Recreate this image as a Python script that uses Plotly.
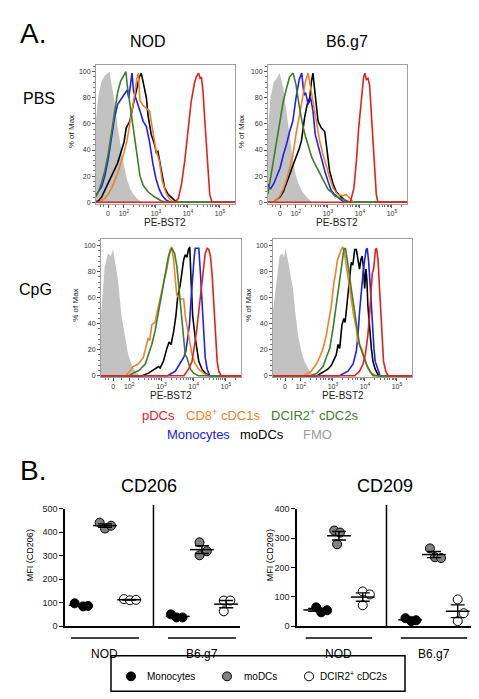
import numpy as np
import plotly.graph_objects as go

# ---------------------------------------------------------------------------
# Panel A data: PE-BST2 histograms.
# x = display position on the FlowJo biexponential axis (in decades),
# y = % of Max.
# ---------------------------------------------------------------------------
NOD_PBS_FMO_U = [1.12, 1.2, 1.3, 1.4, 1.5, 1.55, 1.6, 1.7, 1.8, 1.9, 2.0, 2.1, 2.2, 2.3, 2.4, 2.5, 2.6]
NOD_PBS_FMO_PCT = [62, 82, 93, 97, 99, 100, 92, 78, 58, 42, 28, 17, 10, 6, 3, 1, 0]
NOD_PBS_DCIR2_U = [1.12, 1.2, 1.3, 1.4, 1.5, 1.6, 1.7, 1.8, 1.9, 2.0, 2.06, 2.1, 2.2, 2.3, 2.4, 2.5, 2.6, 2.75, 2.96, 3.17, 3.3]
NOD_PBS_DCIR2_PCT = [4, 8, 15, 24, 36, 52, 70, 84, 93, 97, 100, 90, 72, 55, 36, 20, 13, 8, 4, 1, 0]
NOD_PBS_MONO_U = [1.12, 1.2, 1.3, 1.4, 1.5, 1.6, 1.66, 1.7, 1.8, 1.9, 2.0, 2.1, 2.15, 2.2, 2.25, 2.3, 2.4, 2.5, 2.6, 2.7, 2.8, 2.9, 3.0, 3.1, 3.2, 3.3, 3.45]
NOD_PBS_MONO_PCT = [5, 8, 12, 20, 32, 48, 60, 64, 75, 79, 82, 86, 80, 92, 99, 85, 78, 70, 62, 58, 46, 30, 18, 10, 5, 2, 0]
NOD_PBS_CD8_U = [1.2, 1.3, 1.4, 1.5, 1.6, 1.7, 1.8, 1.9, 2.0, 2.1, 2.2, 2.3, 2.35, 2.4, 2.45, 2.5, 2.6, 2.7, 2.8, 2.85, 2.9, 3.0, 3.1, 3.2, 3.3, 3.4, 3.5, 3.6]
NOD_PBS_CD8_PCT = [0, 1, 3, 6, 10, 16, 22, 30, 38, 48, 62, 78, 85, 95, 99, 78, 74, 72, 70, 62, 55, 40, 32, 16, 8, 3, 1, 0]
NOD_PBS_MODC_U = [1.2, 1.3, 1.4, 1.5, 1.6, 1.7, 1.8, 1.9, 2.0, 2.07, 2.18, 2.3, 2.4, 2.48, 2.54, 2.6, 2.65, 2.7, 2.75, 2.85, 2.96, 3.01, 3.06, 3.17, 3.27, 3.38, 3.5, 3.6, 3.7]
NOD_PBS_MODC_PCT = [1, 4, 9, 14, 19, 24, 30, 38, 46, 57, 62, 76, 88, 96, 99, 90, 86, 80, 67, 52, 44, 38, 39, 24, 11, 6, 3, 1, 0]
NOD_PBS_PDC_U = [3.6, 3.7, 3.8, 3.9, 4.0, 4.1, 4.2, 4.26, 4.33, 4.38, 4.42, 4.47, 4.52, 4.57, 4.62, 4.68, 4.75]
NOD_PBS_PDC_PCT = [0, 3, 14, 32, 57, 77, 91, 96, 99, 95, 96, 85, 65, 44, 24, 6, 0]

B6_PBS_FMO_U = [1.12, 1.2, 1.3, 1.4, 1.49, 1.6, 1.7, 1.8, 1.9, 2.0, 2.1, 2.2, 2.3, 2.4, 2.5]
B6_PBS_FMO_PCT = [55, 80, 92, 95, 99, 88, 70, 50, 33, 20, 13, 8, 5, 2, 0]
B6_PBS_DCIR2_U = [1.12, 1.2, 1.3, 1.4, 1.5, 1.6, 1.7, 1.8, 1.91, 2.0, 2.1, 2.2, 2.3, 2.4, 2.5, 2.6, 2.7, 2.8, 2.9, 3.0, 3.1, 3.2, 3.4, 3.6, 3.7]
B6_PBS_DCIR2_PCT = [6, 18, 35, 48, 65, 77, 87, 96, 99, 90, 74, 60, 50, 41, 34, 29, 24, 19, 14, 10, 8, 5, 3, 1, 0]
B6_PBS_MONO_U = [1.12, 1.2, 1.3, 1.4, 1.5, 1.6, 1.7, 1.8, 1.9, 2.0, 2.1, 2.18, 2.25, 2.3, 2.38, 2.46, 2.53, 2.6, 2.7, 2.8, 2.9, 3.0, 3.1, 3.2, 3.3, 3.4, 3.5]
B6_PBS_MONO_PCT = [14, 10, 14, 20, 26, 36, 44, 54, 62, 80, 94, 99, 82, 84, 75, 80, 70, 52, 42, 32, 24, 16, 9, 6, 4, 2, 0]
B6_PBS_CD8_U = [1.3, 1.4, 1.5, 1.6, 1.7, 1.8, 1.9, 2.0, 2.1, 2.2, 2.3, 2.38, 2.48, 2.58, 2.67, 2.74, 2.84, 2.95, 3.05, 3.16, 3.3, 3.47, 3.57, 3.68, 3.8]
B6_PBS_CD8_PCT = [0, 2, 5, 10, 17, 26, 36, 52, 66, 80, 93, 99, 85, 72, 57, 47, 37, 27, 19, 11, 6, 5, 6, 3, 0]
B6_PBS_MODC_U = [1.3, 1.4, 1.5, 1.6, 1.7, 1.8, 1.9, 2.0, 2.1, 2.17, 2.27, 2.35, 2.43, 2.48, 2.53, 2.58, 2.64, 2.69, 2.79, 2.9, 2.95, 3.0, 3.05, 3.16, 3.26, 3.42, 3.6]
B6_PBS_MODC_PCT = [0, 2, 4, 8, 14, 21, 28, 34, 41, 47, 65, 75, 80, 92, 99, 87, 70, 62, 57, 54, 44, 34, 24, 14, 8, 4, 0]
B6_PBS_PDC_U = [3.7, 3.81, 3.89, 3.96, 4.04, 4.11, 4.15, 4.2, 4.25, 4.3, 4.35, 4.41, 4.46, 4.51, 4.56]
B6_PBS_PDC_PCT = [0, 11, 32, 57, 80, 95, 99, 94, 95, 90, 70, 44, 21, 6, 0]

NOD_CPG_FMO_U = [1.12, 1.2, 1.24, 1.34, 1.43, 1.5, 1.55, 1.66, 1.76, 1.87, 1.97, 2.07, 2.18, 2.28, 2.4]
NOD_CPG_FMO_PCT = [45, 70, 84, 94, 92, 97, 89, 72, 46, 29, 16, 9, 4, 1, 0]
NOD_CPG_CD8_U = [1.9, 1.97, 2.12, 2.28, 2.44, 2.54, 2.59, 2.64, 2.7, 2.8, 2.91, 3.01, 3.09, 3.17, 3.22, 3.27, 3.32, 3.38, 3.43, 3.48, 3.58, 3.69, 3.74, 3.84, 3.95, 4.05, 4.16, 4.31, 4.45]
NOD_CPG_CD8_PCT = [0, 2, 7, 9, 14, 24, 29, 27, 39, 41, 54, 67, 74, 82, 89, 97, 99, 89, 74, 62, 59, 59, 46, 31, 16, 9, 5, 2, 0]
NOD_CPG_DCIR2_U = [2.0, 2.12, 2.3, 2.5, 2.7, 2.8, 2.91, 3.01, 3.12, 3.22, 3.32, 3.41, 3.48, 3.53, 3.58, 3.64, 3.69, 3.74, 3.79, 3.84, 3.9, 4.0, 4.15]
NOD_CPG_DCIR2_PCT = [0, 2, 4, 9, 24, 34, 49, 64, 77, 92, 98, 94, 84, 72, 59, 46, 29, 16, 14, 10, 5, 2, 0]
NOD_CPG_MODC_U = [2.4, 2.6, 2.7, 2.8, 2.91, 2.96, 3.06, 3.17, 3.24, 3.3, 3.38, 3.45, 3.51, 3.58, 3.64, 3.69, 3.74, 3.79, 3.84, 3.88, 3.92, 3.97, 4.05, 4.1, 4.16, 4.26, 4.36, 4.5]
NOD_CPG_MODC_PCT = [0, 2, 3.5, 5, 7, 6, 11, 21, 26, 24, 34, 46, 62, 69, 79, 89, 93, 91, 97, 99, 74, 46, 29, 19, 11, 5, 2, 0]
NOD_CPG_MONO_U = [3.2, 3.43, 3.58, 3.69, 3.76, 3.82, 3.87, 3.92, 3.97, 4.02, 4.05, 4.1, 4.16, 4.21, 4.26, 4.31, 4.36, 4.42, 4.5]
NOD_CPG_MONO_PCT = [0, 3.5, 9, 14, 19, 29, 39, 59, 79, 92, 98, 98, 98, 79, 54, 29, 14, 5, 0]
NOD_CPG_PDC_U = [3.7, 3.84, 3.95, 4.03, 4.1, 4.18, 4.26, 4.31, 4.36, 4.42, 4.47, 4.52, 4.57, 4.63, 4.68, 4.73, 4.78, 4.85]
NOD_CPG_PDC_PCT = [0, 5, 11, 24, 36, 54, 72, 84, 94, 98, 97, 92, 79, 54, 29, 11, 3.5, 0]

B6_CPG_FMO_U = [1.12, 1.23, 1.33, 1.41, 1.47, 1.52, 1.59, 1.68, 1.75, 1.82, 1.91, 2.01, 2.11, 2.22, 2.32, 2.43]
B6_CPG_FMO_PCT = [49, 74, 92, 94, 91, 98, 89, 79, 67, 49, 31, 19, 11, 6, 2, 0]
B6_CPG_CD8_U = [2.1, 2.32, 2.48, 2.58, 2.69, 2.79, 2.84, 2.95, 3.03, 3.07, 3.14, 3.21, 3.26, 3.31, 3.36, 3.42, 3.52, 3.63, 3.73, 3.78, 3.89, 3.99, 4.09, 4.2, 4.35]
B6_CPG_CD8_PCT = [0, 3.5, 9, 14, 21, 31, 39, 54, 72, 77, 89, 94, 97, 99, 94, 84, 67, 49, 36, 26, 21, 14, 6, 2, 0]
B6_CPG_DCIR2_U = [2.3, 2.5, 2.69, 2.79, 2.9, 3.0, 3.1, 3.21, 3.28, 3.34, 3.39, 3.45, 3.49, 3.57, 3.68, 3.76, 3.83, 3.94, 4.04, 4.15, 4.25]
B6_CPG_DCIR2_PCT = [0, 2, 7, 14, 21, 36, 54, 74, 87, 97, 98, 89, 82, 67, 49, 34, 24, 16, 9, 3.5, 0]
B6_CPG_MODC_U = [2.5, 2.74, 2.84, 2.95, 3.1, 3.16, 3.21, 3.28, 3.34, 3.38, 3.45, 3.52, 3.57, 3.62, 3.68, 3.73, 3.78, 3.83, 3.87, 3.91, 3.95, 3.99, 4.03, 4.06, 4.09, 4.15, 4.2, 4.25, 4.32, 4.42]
B6_CPG_MODC_PCT = [0, 3.5, 5, 8, 16, 24, 21, 39, 44, 41, 57, 74, 87, 85, 97, 97, 89, 82, 89, 92, 84, 67, 82, 74, 54, 34, 21, 11, 5, 0]
B6_CPG_MONO_U = [3.2, 3.47, 3.63, 3.73, 3.78, 3.83, 3.89, 3.94, 3.99, 4.04, 4.07, 4.11, 4.17, 4.22, 4.28, 4.32, 4.39, 4.47]
B6_CPG_MONO_PCT = [0, 3.5, 9, 19, 31, 49, 67, 79, 89, 97, 98, 89, 67, 41, 21, 11, 5, 0]
B6_CPG_PDC_U = [3.68, 3.83, 3.94, 4.01, 4.09, 4.15, 4.2, 4.23, 4.27, 4.3, 4.33, 4.36, 4.41, 4.44, 4.49, 4.53, 4.58, 4.65, 4.72]
B6_CPG_PDC_PCT = [0, 3.5, 9, 16, 31, 49, 69, 79, 82, 89, 97, 98, 89, 74, 49, 29, 11, 3.5, 0]

# PE-BST2 axis tick values (fluorescence) and labels
BST2_TICK_VALUES = [0, 1e2, 1e3, 1e4, 1e5]
BST2_TICK_LABELS = ["0", "10<sup>2</sup>", "10<sup>3</sup>", "10<sup>4</sup>", "10<sup>5</sup>"]
PCT_TICKS = [0, 20, 40, 60, 80, 100]

# ---------------------------------------------------------------------------
# Panel B data: MFI per mouse
# ---------------------------------------------------------------------------
STRAINS = ["NOD", "B6.g7"]
CELL_TYPES = ["Monocytes", "moDCs", "DCIR2<sup>+</sup> cDC2s"]

CD206_NOD_MONO = [97, 84, 86]
CD206_NOD_MODC = [441, 416, 428]
CD206_NOD_CDC2 = [115, 110, 112]
CD206_B6_MONO = [50, 37, 37]
CD206_B6_MODC = [357, 319, 302]
CD206_B6_CDC2 = [109, 109, 63]

CD209_NOD_MONO = [64, 47, 54]
CD209_NOD_MODC = [326, 319, 279]
CD209_NOD_CDC2 = [118, 108, 71]
CD209_B6_MONO = [27, 17, 20]
CD209_B6_MODC = [265, 235, 232]
CD209_B6_CDC2 = [91, 44, 17]

# ---------------------------------------------------------------------------
W, H = 479, 699
FONT = "Arial, Liberation Sans, sans-serif"


def fx(px):
    return px / W


def fy(py):
    return 1 - py / H


def bst2_display(v):
    """FlowJo-like biexponential display position (in decades)."""
    v = float(v)
    if v >= 100:
        return np.log10(v)
    return 1.5 + 0.5 * v / 100.0


COLORS = {
    "PDC": "#e3211c",
    "CD8": "#f0802a",
    "DCIR2": "#3b7f2b",
    "MONO": "#2020ee",
    "MODC": "#000000",
    "FMO": "#c2c2c2",
}

g = globals()
PANELS_A = [  # key, axis index, left px, right px, top px, bottom px
    ("NOD_PBS", 1, 88, 227, 53, 193.3),
    ("B6_PBS", 2, 260, 399, 53, 193.3),
    ("NOD_CPG", 3, 93, 233, 229.4, 369.3),
    ("B6_CPG", 4, 265, 404, 229.4, 369.3),
]
XR = [1.125, 5.47]
YR = [-1, 105]
DRAW_ORDER = ["MODC", "MONO", "CD8", "DCIR2", "PDC"]

major_x = [bst2_display(v) for v in BST2_TICK_VALUES]
minor_x = []
for k in (2, 3, 4):
    for m in range(2, 10):
        minor_x.append(bst2_display(m * 10 ** k))
minor_x += [bst2_display(2e5), bst2_display(50), 1.25, 1.35]

fig = go.Figure()
layout = {}

for key, idx, l, r, t, b in PANELS_A:
    sfx = "" if idx == 1 else str(idx)
    xa, ya = "x" + sfx, "y" + sfx
    # FMO filled
    fig.add_trace(go.Scatter(
        x=g[f"{key}_FMO_U"], y=g[f"{key}_FMO_PCT"], xaxis=xa, yaxis=ya,
        mode="lines", line=dict(width=0, color=COLORS["FMO"]),
        fill="tozeroy", fillcolor=COLORS["FMO"], showlegend=False, hoverinfo="skip"))
    for pop in DRAW_ORDER:
        u = list(g[f"{key}_{pop}_U"])
        p = list(g[f"{key}_{pop}_PCT"])
        if u[0] > XR[0]:
            u = [XR[0] - 0.05] + u
            p = [0] + p
        u = u + [XR[1] + 0.05]
        p = p + [0]
        fig.add_trace(go.Scatter(
            x=u, y=p, xaxis=xa, yaxis=ya, mode="lines",
            line=dict(width=1.6, color=COLORS[pop]), showlegend=False, hoverinfo="skip"))
    layout["xaxis" + sfx] = dict(
        domain=[fx(l), fx(r)], range=XR, anchor=ya,
        showline=True, mirror=True, linecolor="#a0a0a0", linewidth=1,
        showgrid=False, zeroline=False,
        tickmode="array", tickvals=major_x, ticktext=BST2_TICK_LABELS,
        ticks="outside", ticklen=3, tickcolor="#555", tickwidth=1,
        tickfont=dict(family=FONT, size=7, color="#333"),
        minor=dict(tickmode="array", tickvals=minor_x, ticks="outside", ticklen=2,
                   tickcolor="#777", showgrid=False),
    )
    layout["yaxis" + sfx] = dict(
        domain=[fy(b), fy(t)], range=YR, anchor=xa,
        showline=True, mirror=True, linecolor="#a0a0a0", linewidth=1,
        showgrid=False, zeroline=False,
        tickmode="array", tickvals=PCT_TICKS,
        ticks="outside", ticklen=3, tickcolor="#555", tickwidth=1,
        tickfont=dict(family=FONT, size=7, color="#333"),
        minor=dict(dtick=4, ticks="outside", ticklen=2, tickcolor="#777", showgrid=False),
    )

# ---------------------------------------------------------------------------
# Panel B
# ---------------------------------------------------------------------------
GROUP_CENTER = {"NOD": 2, "B6.g7": 6}
TYPE_OFFSET = {"MONO": -1, "MODC": 0, "CDC2": 1}
FILL = {"MONO": "#000000", "MODC": "#808080", "CDC2": "#ffffff"}

# beeswarm horizontal offsets of the three mice (layout only)
SWARM = {
    ("CD206", "NOD", "MONO"): [-0.25, 0.1, 0.3],
    ("CD206", "NOD", "MODC"): [-0.22, 0.0, 0.25],
    ("CD206", "NOD", "CDC2"): [-0.22, 0.03, 0.28],
    ("CD206", "B6", "MONO"): [-0.28, -0.05, 0.2],
    ("CD206", "B6", "MODC"): [-0.1, 0.2, -0.1],
    ("CD206", "B6", "CDC2"): [-0.1, 0.17, -0.1],
    ("CD209", "NOD", "MONO"): [0.04, 0.25, 0.5],
    ("CD209", "NOD", "MODC"): [-0.2, 0.04, -0.08],
    ("CD209", "NOD", "CDC2"): [0.0, 0.3, 0.0],
    ("CD209", "B6", "MONO"): [-0.2, 0.04, 0.25],
    ("CD209", "B6", "MODC"): [-0.17, 0.04, 0.3],
    ("CD209", "B6", "CDC2"): [0.0, 0.25, 0.0],
}

PANELS_B = [  # marker, axis idx, left, right, top, bottom px, x range, y max, title x
    ("CD206", 5, 57, 232, 503, 622, [0.35, 7.57], 500, 141),
    ("CD209", 6, 289, 468, 503, 622, [0.232, 7.77], 400, 377),
]

shapes = []
annotations = []


def text(s, px, py, size, color="#000", xanchor="center", angle=0):
    annotations.append(dict(
        text=s, x=fx(px), y=fy(py), xref="paper", yref="paper", showarrow=False,
        font=dict(family=FONT, size=size, color=color), xanchor=xanchor,
        yanchor="middle", textangle=angle))


for marker, idx, l, r, t, b, xr, ymax, tx in PANELS_B:
    sfx = str(idx)
    xa, ya = "x" + sfx, "y" + sfx
    for strain, skey in (("NOD", "NOD"), ("B6.g7", "B6")):
        for ct in ("MONO", "MODC", "CDC2"):
            vals = np.array(g[f"{marker}_{skey}_{ct}"], dtype=float)
            pos = GROUP_CENTER[strain] + TYPE_OFFSET[ct]
            offs = SWARM[(marker, skey, ct)]
            fig.add_trace(go.Scatter(
                x=[pos + o for o in offs], y=vals, xaxis=xa, yaxis=ya, mode="markers",
                marker=dict(size=9, color=FILL[ct], line=dict(color="#000", width=1)),
                cliponaxis=False, showlegend=False, hoverinfo="skip"))
            mean = vals.mean()
            sem = vals.std(ddof=1) / np.sqrt(len(vals))
            fig.add_trace(go.Scatter(
                x=[pos], y=[mean], xaxis=xa, yaxis=ya, mode="markers",
                marker=dict(symbol="line-ew", size=17, line=dict(color="#000", width=1.5)),
                error_y=dict(type="data", array=[sem], width=7, thickness=1.4, color="#000"),
                cliponaxis=False, showlegend=False, hoverinfo="skip"))
    layout["xaxis" + sfx] = dict(
        domain=[fx(l), fx(r)], range=xr, anchor=ya, showline=True, linecolor="#000",
        linewidth=1.5, showticklabels=False, ticks="", showgrid=False, zeroline=False)
    layout["yaxis" + sfx] = dict(
        domain=[fy(b), fy(t)], range=[0, ymax], anchor=xa, showline=True, linecolor="#000",
        linewidth=1.5, dtick=100, ticks="outside", ticklen=4, tickwidth=1.2,
        tickcolor="#000", tickfont=dict(family=FONT, size=9, color="#222"),
        showgrid=False, zeroline=False)
    # divider between strains
    shapes.append(dict(type="line", xref=xa, yref="paper", x0=4, x1=4,
                       y0=fy(622), y1=fy(499), line=dict(color="#000", width=1.5)))
    # strain underlines and labels
    for strain in STRAINS:
        c = GROUP_CENTER[strain]
        shapes.append(dict(type="line", xref=xa, yref="paper", x0=c - 1.4, x1=c + 1.4,
                           y0=fy(634), y1=fy(634), line=dict(color="#000", width=1.5)))
        annotations.append(dict(text=strain, x=c, y=fy(650), xref=xa, yref="paper",
                                showarrow=False, xanchor="center", yanchor="middle",
                                font=dict(family=FONT, size=12, color="#000")))
    text(marker, tx, 480, 18)
    text(f"MFI ({marker})", 22 if idx == 5 else 262, 550, 9, angle=-90)

# ---------------------------------------------------------------------------
# Text for panel A
# ---------------------------------------------------------------------------
text("A.", 25, 21, 28)
text("NOD", 140, 29, 16)
text("B6.g7", 339, 29, 16)
text("PBS", 31, 87, 16)
text("CpG", 27, 281, 16)
for px, py in ((63, 121), (233, 121), (68, 297), (241, 297)):
    text("% of Max", px, py, 8, color="#222", angle=-90)
for px, py in ((157, 213), (329, 213), (163, 388), (335, 388)):
    text("PE-BST2", px, py, 10, color="#222")

text("pDCs", 150, 408, 13, COLORS["PDC"])
text("CD8<sup>+</sup> cDC1s", 215, 408, 13, COLORS["CD8"])
text("DCIR2<sup>+</sup> cDC2s", 306, 408, 13, COLORS["DCIR2"])
text("Monocytes", 190, 428, 13, COLORS["MONO"])
text("moDCs", 254, 428, 13, "#000")
text("FMO", 309, 428, 13, "#9c9c9c")

text("B.", 25, 464, 28)

# ---------------------------------------------------------------------------
# Legend box for panel B
# ---------------------------------------------------------------------------
shapes.append(dict(type="rect", xref="paper", yref="paper", x0=fx(103), x1=fx(397),
                   y0=fy(688), y1=fy(652), line=dict(color="#000", width=1.5)))
for (mx, tx0), ct, label in zip(((123, 137), (219, 234), (301, 310)),
                                ("MONO", "MODC", "CDC2"), CELL_TYPES):
    shapes.append(dict(type="circle", xref="paper", yref="paper",
                       x0=fx(mx - 4.5), x1=fx(mx + 4.5), y0=fy(673 + 4.5), y1=fy(673 - 4.5),
                       fillcolor=FILL[ct], line=dict(color="#000", width=1)))
    text(label, tx0, 673, 10, xanchor="left")

fig.update_layout(
    width=W, height=H, margin=dict(l=0, r=0, t=0, b=0),
    paper_bgcolor="white", plot_bgcolor="white", showlegend=False,
    shapes=shapes, annotations=annotations, **layout)

fig.write_html("out.html")
